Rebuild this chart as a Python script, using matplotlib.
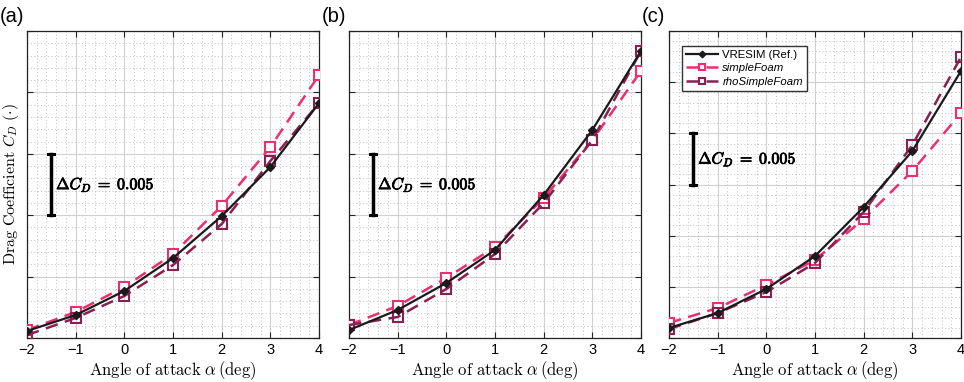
import matplotlib.pyplot as plt
import matplotlib.patheffects as pe
from matplotlib.ticker import MultipleLocator, NullFormatter

plt.rcParams['mathtext.fontset'] = 'cm'
plt.rcParams['font.family'] = ['Liberation Sans', 'DejaVu Sans']

alpha = [-2, -1, 0, 1, 2, 3, 4]
alpha_labels = ['\u22122', '\u22121', '0', '1', '2', '3', '4']

# drag coefficient, one list per panel and solver
vresim_a = [0.01057, 0.01187, 0.01383, 0.01651, 0.01993, 0.02392, 0.02913]
simple_a = [0.01065, 0.01212, 0.01415, 0.01684, 0.02075, 0.02555, 0.03141]
rho_a = [0.01024, 0.01163, 0.01342, 0.01594, 0.01928, 0.02441, 0.02913]

vresim_b = [0.01065, 0.01228, 0.01448, 0.01717, 0.02165, 0.02694, 0.03337]
simple_b = [0.01106, 0.01261, 0.01489, 0.01741, 0.02140, 0.02612, 0.03174]
rho_b = [0.01106, 0.01171, 0.01399, 0.01684, 0.02099, 0.02612, 0.03337]

vresim_c = [0.01098, 0.01244, 0.01479, 0.01801, 0.02280, 0.02827, 0.03609]
simple_c = [0.01147, 0.01293, 0.01518, 0.01762, 0.02163, 0.02632, 0.03199]
rho_c = [0.01088, 0.01244, 0.01449, 0.01733, 0.02231, 0.02886, 0.03746]

ylims = [(0.010, 0.035), (0.010, 0.035), (0.010, 0.040)]
bars = [(0.020, 0.025), (0.020, 0.025), (0.025, 0.030)]
labels = ['(a)', '(b)', '(c)']
data = [(vresim_a, simple_a, rho_a), (vresim_b, simple_b, rho_b),
        (vresim_c, simple_c, rho_c)]

pink = '#ec2f6e'
plum = '#8a1f52'

fig = plt.figure(figsize=(9.64, 3.82), dpi=100)
lefts = [27, 349, 669]
axs = [fig.add_axes([l / 964, 44 / 382, 292 / 964, 307 / 382]) for l in lefts]

for i, ax in enumerate(axs):
    vr, sf, rs = data[i]
    ax.plot(alpha, sf, '--s', color=pink, lw=1.8, ms=6.5, mfc='white',
            mec=pink, mew=1.5, dashes=(5, 3), label='simpleFoam', zorder=3)
    ax.plot(alpha, rs, '--s', color=plum, lw=1.8, ms=6.5, mfc='none',
            mec=plum, mew=1.5, dashes=(5, 3), label='rhoSimpleFoam', zorder=3)
    ax.plot(alpha, vr, '-D', color='#1a1a1a', lw=1.6, ms=4.5,
            label='VRESIM (Ref.)', zorder=4)

    ax.set_xlim(-2, 4)
    ax.set_ylim(*ylims[i])
    ax.set_xticks(alpha, labels=alpha_labels)
    ax.xaxis.set_minor_locator(MultipleLocator(0.2))
    ax.yaxis.set_major_locator(MultipleLocator(0.005))
    ax.yaxis.set_minor_locator(MultipleLocator(0.001))
    ax.yaxis.set_major_formatter(NullFormatter())
    ax.grid(True, which='major', color='#d0d0d0', lw=0.8)
    ax.grid(True, which='minor', color='#c0c0c0', lw=0.7, ls=(0, (1, 2.5)))
    ax.set_axisbelow(True)
    ax.tick_params(which='major', direction='in', top=True, right=True,
                   length=4, labelsize=10.5, color='#222222')
    ax.tick_params(which='minor', length=0)
    for s in ax.spines.values():
        s.set_color('#222222')
        s.set_linewidth(0.9)
    ax.set_xlabel(r'$\mathrm{Angle\ of\ attack}\ \alpha\,\mathrm{(deg)}$',
                  fontsize=12, labelpad=2)

    # delta C_D scale bar
    y0, y1 = bars[i]
    ax.plot([-1.5, -1.5], [y0, y1], color='black', lw=2.5, zorder=5)
    for yy in (y0, y1):
        ax.plot([-1.56, -1.44], [yy, yy], color='black', lw=2.2, zorder=5)
    ax.text(-1.40, (y0 + y1) / 2, r'$\Delta C_D\;=\;0.005$',
            fontsize=11.5, va='center', ha='left',
            path_effects=[pe.withStroke(linewidth=0.6, foreground='black')])

    fig.text((lefts[i] - 27) / 964, 1 - 17 / 382, labels[i], fontsize=14.5,
             va='center', ha='left')

axs[0].set_ylabel(r'$\mathrm{Drag\ Coefficient}\ C_D\ \mathrm{(\cdot)}$',
                  fontsize=11.5)
axs[0].yaxis.set_label_coords(-0.022, 0.5)

h, l = axs[2].get_legend_handles_labels()
leg = axs[2].legend([h[2], h[0], h[1]], [l[2], l[0], l[1]], loc='upper left',
                    fontsize=8.2, frameon=True, fancybox=False,
                    edgecolor='#333333', framealpha=1, borderpad=0.35,
                    handlelength=2.8, handletextpad=0.4, labelspacing=0.3,
                    markerscale=0.75, bbox_to_anchor=(0.025, 0.97))
leg.get_frame().set_linewidth(1.0)
for t in leg.get_texts()[1:]:
    t.set_style('italic')

plt.savefig('out.png', dpi=100)
plt.close('all')
